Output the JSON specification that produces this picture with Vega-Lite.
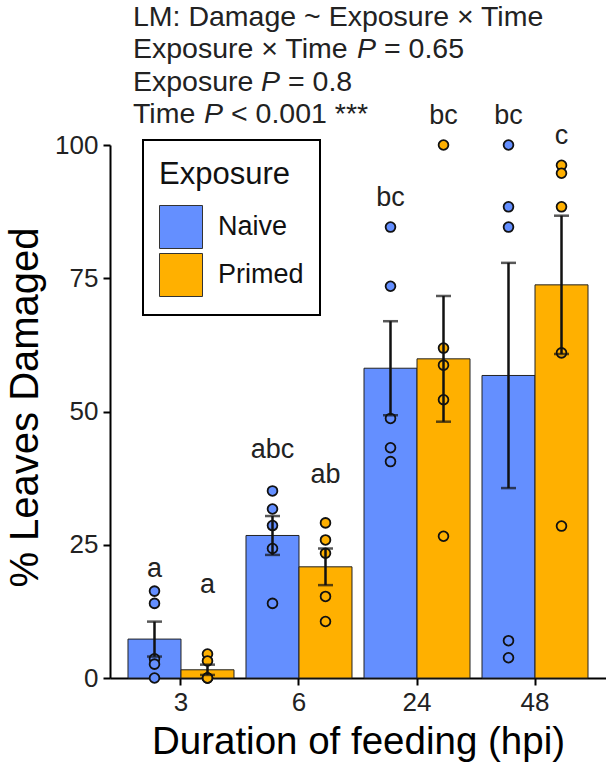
{
  "$schema": "https://vega.github.io/schema/vega-lite/v6.json",
  "autosize": {"type": "none"},
  "width": 496,
  "height": 533,
  "padding": {"left": 110, "top": 145, "right": 0, "bottom": 92},
  "background": "white",
  "config": {
    "font": "Liberation Sans",
    "view": {"stroke": null},
    "axis": {
      "grid": false,
      "domainColor": "black",
      "domainWidth": 2,
      "tickColor": "black",
      "tickWidth": 2,
      "tickSize": 7,
      "labelColor": "#222",
      "labelFontSize": 26,
      "titleColor": "black",
      "titleFontSize": 38.5,
      "titleFontWeight": "normal"
    },
    "legend": {
      "orient": "none",
      "legendX": 33,
      "legendY": -5,
      "fillColor": "white",
      "strokeColor": "black",
      "padding": 16,
      "titleFontSize": 31,
      "titleFontWeight": "normal",
      "titleColor": "#111",
      "titlePadding": 18,
      "labelFontSize": 27,
      "labelColor": "#111",
      "labelOffset": 15,
      "symbolType": "square",
      "symbolSize": 1849,
      "symbolStrokeColor": "#333",
      "symbolStrokeWidth": 1,
      "symbolOpacity": 1,
      "rowPadding": 0
    }
  },
  "datasets": {
    "leaves": [
      {"hpi": "3", "Exposure": "Naive", "damage": 16.3},
      {"hpi": "3", "Exposure": "Naive", "damage": 14.0},
      {"hpi": "3", "Exposure": "Naive", "damage": 3.6},
      {"hpi": "3", "Exposure": "Naive", "damage": 2.6},
      {"hpi": "3", "Exposure": "Naive", "damage": 0},
      {"hpi": "3", "Exposure": "Primed", "damage": 4.5},
      {"hpi": "3", "Exposure": "Primed", "damage": 3.2},
      {"hpi": "3", "Exposure": "Primed", "damage": 0},
      {"hpi": "3", "Exposure": "Primed", "damage": 0},
      {"hpi": "3", "Exposure": "Primed", "damage": 0},
      {"hpi": "6", "Exposure": "Naive", "damage": 35.1},
      {"hpi": "6", "Exposure": "Naive", "damage": 31.7},
      {"hpi": "6", "Exposure": "Naive", "damage": 28.6},
      {"hpi": "6", "Exposure": "Naive", "damage": 24.3},
      {"hpi": "6", "Exposure": "Naive", "damage": 14.0},
      {"hpi": "6", "Exposure": "Primed", "damage": 29.1},
      {"hpi": "6", "Exposure": "Primed", "damage": 25.9},
      {"hpi": "6", "Exposure": "Primed", "damage": 23.4},
      {"hpi": "6", "Exposure": "Primed", "damage": 15.3},
      {"hpi": "6", "Exposure": "Primed", "damage": 10.6},
      {"hpi": "24", "Exposure": "Naive", "damage": 84.6},
      {"hpi": "24", "Exposure": "Naive", "damage": 73.5},
      {"hpi": "24", "Exposure": "Naive", "damage": 48.7},
      {"hpi": "24", "Exposure": "Naive", "damage": 43.2},
      {"hpi": "24", "Exposure": "Naive", "damage": 40.6},
      {"hpi": "24", "Exposure": "Primed", "damage": 100},
      {"hpi": "24", "Exposure": "Primed", "damage": 61.9},
      {"hpi": "24", "Exposure": "Primed", "damage": 58.7},
      {"hpi": "24", "Exposure": "Primed", "damage": 52.2},
      {"hpi": "24", "Exposure": "Primed", "damage": 26.6},
      {"hpi": "48", "Exposure": "Naive", "damage": 100},
      {"hpi": "48", "Exposure": "Naive", "damage": 88.4},
      {"hpi": "48", "Exposure": "Naive", "damage": 84.6},
      {"hpi": "48", "Exposure": "Naive", "damage": 7.0},
      {"hpi": "48", "Exposure": "Naive", "damage": 3.8},
      {"hpi": "48", "Exposure": "Primed", "damage": 96.2},
      {"hpi": "48", "Exposure": "Primed", "damage": 94.7},
      {"hpi": "48", "Exposure": "Primed", "damage": 88.4},
      {"hpi": "48", "Exposure": "Primed", "damage": 61.0},
      {"hpi": "48", "Exposure": "Primed", "damage": 28.5}
    ],
    "groups": [
      {"hpi": "3", "Exposure": "Naive", "letter": "a", "letter_at": 19.0},
      {"hpi": "3", "Exposure": "Primed", "letter": "a", "letter_at": 16.0},
      {"hpi": "6", "Exposure": "Naive", "letter": "abc", "letter_at": 41.3},
      {"hpi": "6", "Exposure": "Primed", "letter": "ab", "letter_at": 36.6},
      {"hpi": "24", "Exposure": "Naive", "letter": "bc", "letter_at": 88.5},
      {"hpi": "24", "Exposure": "Primed", "letter": "bc", "letter_at": 103.9},
      {"hpi": "48", "Exposure": "Naive", "letter": "bc", "letter_at": 103.9},
      {"hpi": "48", "Exposure": "Primed", "letter": "c", "letter_at": 100.2}
    ]
  },
  "encoding": {
    "x": {
      "field": "hpi",
      "type": "nominal",
      "sort": ["3", "6", "24", "48"],
      "scale": {"paddingInner": 0.1017, "paddingOuter": 0.1525},
      "axis": {"title": "Duration of feeding (hpi)", "labelAngle": 0, "labelPadding": 4, "titlePadding": 8}
    },
    "xOffset": {
      "field": "Exposure",
      "type": "nominal",
      "sort": ["Naive", "Primed"],
      "scale": {"paddingInner": 0, "paddingOuter": 0}
    }
  },
  "layer": [
    {
      "data": {"name": "leaves"},
      "mark": {"type": "bar", "stroke": "#222", "strokeWidth": 1},
      "encoding": {
        "y": {
          "aggregate": "mean",
          "field": "damage",
          "type": "quantitative",
          "title": "% Leaves Damaged",
          "scale": {"domain": [0, 100], "nice": false},
          "axis": {"values": [0, 25, 50, 75, 100], "labelPadding": 5, "titlePadding": 9, "titleFontSize": 40, "titleY": 262}
        },
        "color": {
          "field": "Exposure",
          "type": "nominal",
          "scale": {"domain": ["Naive", "Primed"], "range": ["#648FFF", "#FFB000"]},
          "legend": {
            "title": "Exposure",
            "encode": {
              "legend": {"update": {"strokeWidth": {"value": 2}}},
              "title": {"update": {"dy": {"value": 4}}}
            }
          }
        }
      }
    },
    {
      "data": {"name": "leaves"},
      "mark": {"type": "circle", "size": 95, "stroke": "#111", "strokeWidth": 1.8, "opacity": 1},
      "encoding": {
        "y": {"field": "damage", "type": "quantitative", "title": "% Leaves Damaged"},
        "color": {"field": "Exposure", "type": "nominal", "legend": null}
      }
    },
    {
      "data": {"name": "leaves"},
      "mark": {
        "type": "errorbar",
        "extent": "stderr",
        "ticks": {"size": 15, "thickness": 2.5, "color": "#111"},
        "rule": {"strokeWidth": 2.5, "color": "#111"}
      },
      "encoding": {
        "y": {"field": "damage", "type": "quantitative", "title": "% Leaves Damaged"}
      }
    },
    {
      "data": {"name": "groups"},
      "mark": {"type": "text", "fontSize": 27, "color": "#222", "baseline": "alphabetic"},
      "encoding": {
        "y": {"field": "letter_at", "type": "quantitative", "title": "% Leaves Damaged"},
        "text": {"field": "letter"}
      }
    },
    {
      "data": {"values": [{"note": "LM: Damage ~ Exposure × Time"}]},
      "mark": {"type": "text", "fontSize": 28.5, "color": "#222", "align": "left", "baseline": "alphabetic", "dx": 5},
      "encoding": {"x": {"datum": "3", "bandPosition": 0}, "xOffset": null, "y": {"datum": 122.3}, "text": {"field": "note"}}
    },
    {
      "data": {"values": [{"note": "Exposure × Time"}]},
      "mark": {"type": "text", "fontSize": 28.5, "color": "#222", "align": "left", "baseline": "alphabetic", "dx": 5},
      "encoding": {"x": {"datum": "3", "bandPosition": 0}, "xOffset": null, "y": {"datum": 116.3}, "text": {"field": "note"}}
    },
    {
      "data": {"values": [{"note": "P"}]},
      "mark": {"type": "text", "fontSize": 28.5, "fontStyle": "italic", "color": "#222", "align": "left", "baseline": "alphabetic", "dx": 229},
      "encoding": {"x": {"datum": "3", "bandPosition": 0}, "xOffset": null, "y": {"datum": 116.3}, "text": {"field": "note"}}
    },
    {
      "data": {"values": [{"note": "= 0.65"}]},
      "mark": {"type": "text", "fontSize": 28.5, "color": "#222", "align": "left", "baseline": "alphabetic", "dx": 256},
      "encoding": {"x": {"datum": "3", "bandPosition": 0}, "xOffset": null, "y": {"datum": 116.3}, "text": {"field": "note"}}
    },
    {
      "data": {"values": [{"note": "Exposure"}]},
      "mark": {"type": "text", "fontSize": 28.5, "color": "#222", "align": "left", "baseline": "alphabetic", "dx": 5},
      "encoding": {"x": {"datum": "3", "bandPosition": 0}, "xOffset": null, "y": {"datum": 110.2}, "text": {"field": "note"}}
    },
    {
      "data": {"values": [{"note": "P"}]},
      "mark": {"type": "text", "fontSize": 28.5, "fontStyle": "italic", "color": "#222", "align": "left", "baseline": "alphabetic", "dx": 133},
      "encoding": {"x": {"datum": "3", "bandPosition": 0}, "xOffset": null, "y": {"datum": 110.2}, "text": {"field": "note"}}
    },
    {
      "data": {"values": [{"note": "= 0.8"}]},
      "mark": {"type": "text", "fontSize": 28.5, "color": "#222", "align": "left", "baseline": "alphabetic", "dx": 160},
      "encoding": {"x": {"datum": "3", "bandPosition": 0}, "xOffset": null, "y": {"datum": 110.2}, "text": {"field": "note"}}
    },
    {
      "data": {"values": [{"note": "Time"}]},
      "mark": {"type": "text", "fontSize": 28.5, "color": "#222", "align": "left", "baseline": "alphabetic", "dx": 5},
      "encoding": {"x": {"datum": "3", "bandPosition": 0}, "xOffset": null, "y": {"datum": 104.1}, "text": {"field": "note"}}
    },
    {
      "data": {"values": [{"note": "P"}]},
      "mark": {"type": "text", "fontSize": 28.5, "fontStyle": "italic", "color": "#222", "align": "left", "baseline": "alphabetic", "dx": 76},
      "encoding": {"x": {"datum": "3", "bandPosition": 0}, "xOffset": null, "y": {"datum": 104.1}, "text": {"field": "note"}}
    },
    {
      "data": {"values": [{"note": "< 0.001 ***"}]},
      "mark": {"type": "text", "fontSize": 28.5, "color": "#222", "align": "left", "baseline": "alphabetic", "dx": 103},
      "encoding": {"x": {"datum": "3", "bandPosition": 0}, "xOffset": null, "y": {"datum": 104.1}, "text": {"field": "note"}}
    }
  ]
}
